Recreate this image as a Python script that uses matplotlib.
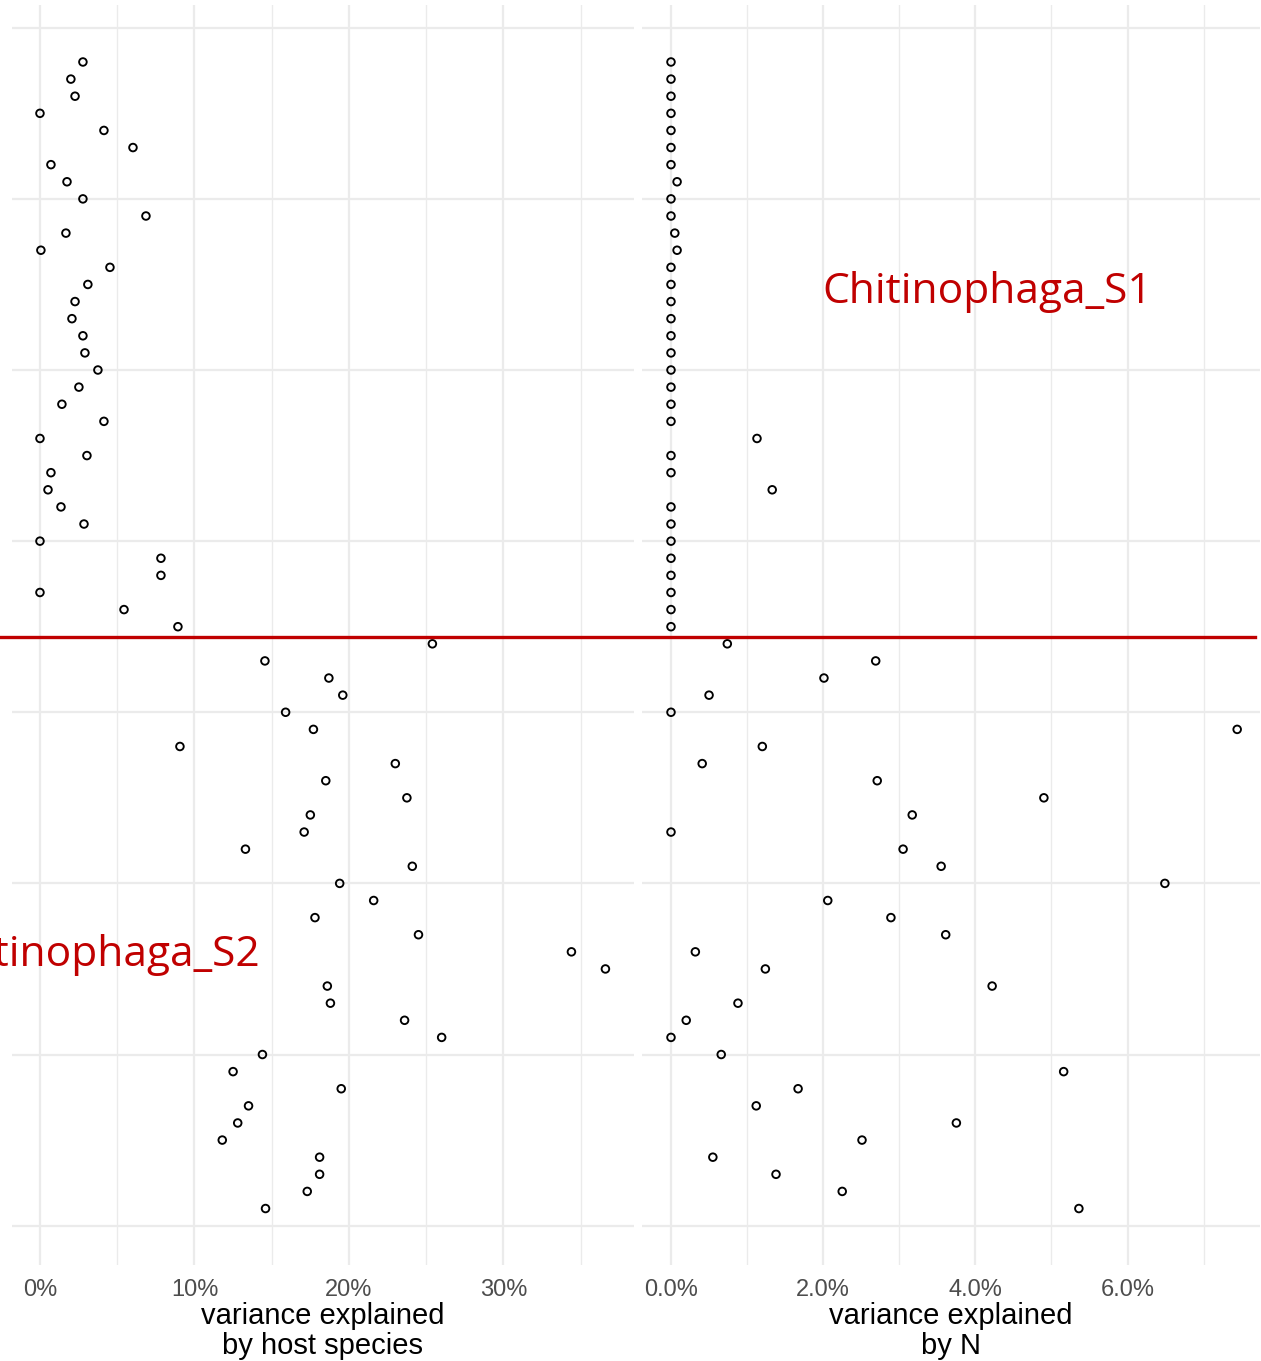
import numpy as np
import matplotlib.pyplot as plt
from matplotlib.lines import Line2D
from matplotlib.ticker import FuncFormatter

# rows are listed top to bottom (y = 68 ... 1)
host_s1 = [2.78, 2.0, 2.27, 0.0, 4.14, 6.02, 0.71, 1.75, 2.78, 6.86,
           1.68, 0.06, 4.53, 3.1, 2.27, 2.07, 2.78, 2.91, 3.75, 2.52,
           1.42, 4.14, 0.0, 3.04, 0.71, 0.52, 1.36, 2.85, 0.0, 7.83,
           7.83, 0.0, 5.44, 8.93]
host_s2 = [25.4, 14.56, 18.7, 19.6, 15.9, 17.7, 9.06, 23.0, 18.5, 23.75,
           17.5, 17.1, 13.3, 24.1, 19.4, 21.6, 17.8, 24.5, 34.4, 36.6,
           18.6, 18.8, 23.6, 26.0, 14.4, 12.5, 19.5, 13.5, 12.8, 11.8,
           18.1, 18.1, 17.3, 14.6]
n_s1 = [0, 0, 0, 0, 0, 0, 0, 0.08, 0, 0,
        0.05, 0.08, 0, 0, 0, 0, 0, 0, 0, 0,
        0, 0, 1.13, 0, 0, 1.33, 0, 0, 0, 0,
        0, 0, 0, 0]
n_s2 = [0.74, 2.69, 2.01, 0.50, 0.0, 7.44, 1.20, 0.41, 2.71, 4.90,
        3.17, 0.0, 3.05, 3.55, 6.49, 2.06, 2.89, 3.61, 0.32, 1.24,
        4.22, 0.88, 0.20, 0.0, 0.66, 5.16, 1.67, 1.12, 3.75, 2.51,
        0.55, 1.38, 2.25, 5.36]

host = np.array(host_s1 + host_s2)
n_eff = np.array(n_s1 + n_s2)
rows = np.arange(len(host), 0, -1)

W, H = 1261, 1361
fig = plt.figure(figsize=(W / 100, H / 100), dpi=100)
fig.patch.set_facecolor('white')

grid_col = '#EBEBEB'
red = '#C00000'


def px_axes(x0, x1, y0, y1):
    return fig.add_axes([x0 / W, 1 - y1 / H, (x1 - x0) / W, (y1 - y0) / H])


def style(ax, xlim, major, minor, fmt, xlabel):
    ax.set_xlim(*xlim)
    ax.set_ylim(-2.3, 71.33)
    for v in minor:
        ax.axvline(v, color=grid_col, lw=1.0, zorder=0)
    for v in major:
        ax.axvline(v, color=grid_col, lw=1.6, zorder=0)
    for v in range(0, 71, 10):
        ax.axhline(v, color=grid_col, lw=1.6, zorder=0)
    ax.set_xticks(major)
    ax.xaxis.set_major_formatter(FuncFormatter(fmt))
    ax.set_yticks([])
    ax.tick_params(axis='x', length=0, pad=10, labelsize=17, labelcolor='#4D4D4D')
    for lab in ax.get_xticklabels():
        lab.set_family('Liberation Sans')
    for s in ax.spines.values():
        s.set_visible(False)
    ax.set_xlabel(xlabel, fontsize=21, family='Liberation Sans',
                  labelpad=1, linespacing=1.08)


ax1 = px_axes(12, 634, 5, 1265)
ax1.scatter(host, rows, s=30, facecolors='none', edgecolors='black', linewidths=1.35, zorder=3)
style(ax1, (-1.81, 38.45), [0, 10, 20, 30], [5, 15, 25, 35],
      lambda v, p: '{:.0f}%'.format(v), 'variance explained\nby host species')
# label deliberately runs past the left figure edge, as in the original
ax1.text(3.55, 15.8, 'Chitinophaga_S2', color=red, fontsize=30.6, family='Open Sans',
         ha='center', va='center', clip_on=False)

ax2 = px_axes(642, 1260, 5, 1265)
ax2.scatter(n_eff, rows, s=30, facecolors='none', edgecolors='black', linewidths=1.35, zorder=3)
style(ax2, (-0.381, 7.74), [0, 2, 4, 6], [1, 3, 5, 7],
      lambda v, p: '{:.1f}%'.format(v), 'variance explained\nby N')
ax2.text(4.16, 54.55, 'Chitinophaga_S1', color=red, fontsize=30.6, family='Open Sans',
         ha='center', va='center')

# divider between the two groups
yl = 1 - 637 / H
fig.add_artist(Line2D([0, 1255 / W], [yl, yl], color=red, lw=2.4,
                      transform=fig.transFigure))

fig.savefig('out.png', dpi=100)
